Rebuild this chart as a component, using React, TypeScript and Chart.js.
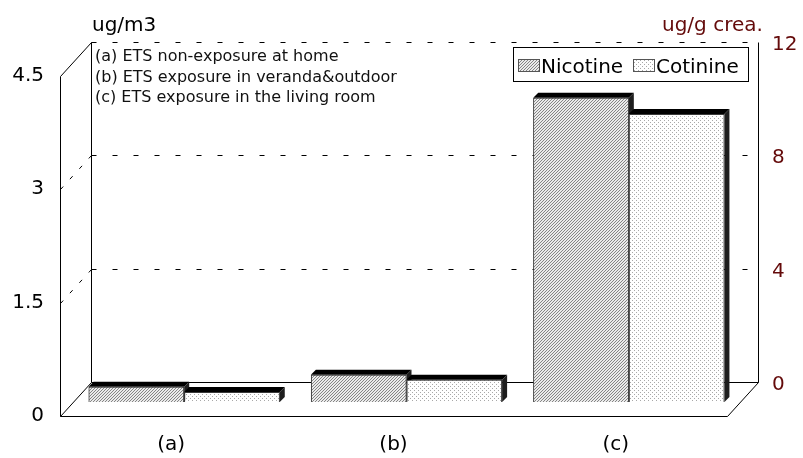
import { useEffect, useRef } from 'react';
import { Chart, registerables } from 'chart.js';

Chart.register(...registerables);

// ---- data ----
const categories = ['(a)', '(b)', '(c)'];
const seriesNames = ['Nicotine', 'Cotinine'];
const nicotine = [0.2, 0.36, 4.02]; // ug/m3, left axis
const cotinine = [0.35, 0.78, 10.15]; // ug/g crea., right axis
const leftUnit = 'ug/m3';
const rightUnit = 'ug/g crea.';
const leftMax = 4.5;
const leftStep = 1.5;
const rightMax = 12;
const rightStep = 4;
const notes = [
  '(a) ETS non-exposure at home',
  '(b) ETS exposure in veranda&outdoor',
  '(c) ETS exposure in the living room',
];

// ---- look ----
const FONT = "'DejaVu Sans', sans-serif";
const RIGHT_COLOR = '#640a0a';
// 3D box planes, relative to the bar plane (the chart area)
const FRONT = { dx: -13, dy: 14 };
const BACK = { dx: 18, dy: -20 };
// depth of each bar
const BAR_DX = 5;
const BAR_DY = 5;

function makePattern(kind: 'hatch' | 'dots'): CanvasPattern | string {
  const c = document.createElement('canvas');
  const g = c.getContext('2d');
  if (!g) return '#ccc';
  if (kind === 'hatch') {
    c.width = 3;
    c.height = 3;
    g.fillStyle = '#ebebeb';
    g.fillRect(0, 0, 3, 3);
    g.fillStyle = '#858585';
    for (let x = 0; x < 3; x++) g.fillRect(x, 2 - x, 1, 1);
  } else {
    c.width = 4;
    c.height = 4;
    g.fillStyle = '#ffffff';
    g.fillRect(0, 0, 4, 4);
    g.fillStyle = '#a8a8a8';
    g.fillRect(0, 0, 1, 1);
    g.fillRect(2, 2, 1, 1);
  }
  return g.createPattern(c, 'repeat') || '#ccc';
}

const px = (v: number) => Math.round(v) + 0.5;

function drawBarFaces(ctx: CanvasRenderingContext2D, el: any) {
  const { x, y, base, width } = el.getProps(['x', 'y', 'base', 'width'], true);
  const l = x - width / 2;
  const r = x + width / 2;
  // top face
  ctx.fillStyle = '#000';
  ctx.beginPath();
  ctx.moveTo(l, y);
  ctx.lineTo(l + BAR_DX, y - BAR_DY);
  ctx.lineTo(r + BAR_DX, y - BAR_DY);
  ctx.lineTo(r, y);
  ctx.closePath();
  ctx.fill();
  // right face
  ctx.fillStyle = '#1e1e1e';
  ctx.beginPath();
  ctx.moveTo(r, y);
  ctx.lineTo(r + BAR_DX, y - BAR_DY);
  ctx.lineTo(r + BAR_DX, base - BAR_DY);
  ctx.lineTo(r, base);
  ctx.closePath();
  ctx.fill();
}

const boxPlugin = {
  id: 'box3d',
  beforeDatasetsDraw(chart: any) {
    const { ctx, chartArea: a } = chart;
    const y = chart.scales.y;
    const z0 = y.getPixelForValue(0);
    const zt = y.getPixelForValue(leftMax);
    const fl = px(a.left + FRONT.dx), fr = px(a.right + FRONT.dx);
    const fb = px(z0 + FRONT.dy), ft = px(zt + FRONT.dy);
    const bl = px(a.left + BACK.dx), br = px(a.right + BACK.dx);
    const bb = px(z0 + BACK.dy), bt = px(zt + BACK.dy);

    ctx.save();
    ctx.strokeStyle = '#000';
    ctx.lineWidth = 1;

    // dashed grid on the back wall and the left wall
    ctx.setLineDash([5, 16]);
    const levels: number[] = [];
    for (let v = leftStep; v <= leftMax + 1e-9; v += leftStep) levels.push(v);
    levels.forEach((v) => {
      const yb = px(y.getPixelForValue(v) + BACK.dy);
      ctx.beginPath();
      ctx.moveTo(bl, yb);
      ctx.lineTo(br, yb);
      ctx.stroke();
    });
    ctx.setLineDash([4, 10]);
    levels.forEach((v) => {
      if (Math.abs(v - leftMax) < 1e-9) return;
      const yb = px(y.getPixelForValue(v) + BACK.dy);
      const yf = px(y.getPixelForValue(v) + FRONT.dy);
      ctx.beginPath();
      ctx.moveTo(fl, yf);
      ctx.lineTo(bl, yb);
      ctx.stroke();
    });
    ctx.setLineDash([]);

    // solid edges of the box
    ctx.beginPath();
    ctx.moveTo(fl, fb);
    ctx.lineTo(fl, ft);
    ctx.lineTo(bl, bt);
    ctx.lineTo(bl, bb);
    ctx.moveTo(fl, fb);
    ctx.lineTo(fr, fb);
    ctx.lineTo(br, bb);
    ctx.lineTo(bl, bb);
    ctx.lineTo(fl, fb);
    ctx.moveTo(br, bb);
    ctx.lineTo(br, bt);
    ctx.stroke();
    ctx.restore();
  },
  afterDatasetsDraw(chart: any) {
    // redraw the bars front to back so each right-hand bar hides
    // the side face of its left neighbour
    const { ctx } = chart;
    ctx.save();
    chart.data.datasets.forEach((_: any, i: number) => {
      const meta = chart.getDatasetMeta(i);
      meta.data.forEach((el: any) => {
        el.draw(ctx);
        drawBarFaces(ctx, el);
      });
    });
    ctx.restore();
  },
  afterDraw(chart: any) {
    const { ctx } = chart;
    ctx.save();
    ctx.textBaseline = 'alphabetic';
    ctx.textAlign = 'left';

    // axis units
    ctx.font = `20px ${FONT}`;
    ctx.fillStyle = '#000';
    ctx.fillText(leftUnit, 92, 31);
    ctx.fillStyle = RIGHT_COLOR;
    ctx.fillText(rightUnit, 662, 31);

    // notes
    ctx.font = `16px ${FONT}`;
    ctx.fillStyle = '#111';
    notes.forEach((t, i) => ctx.fillText(t, 95, 61 + i * 20.5));

    // legend
    ctx.fillStyle = '#fff';
    ctx.fillRect(513, 47, 235, 34);
    ctx.strokeStyle = '#000';
    ctx.lineWidth = 1;
    ctx.strokeRect(513.5, 47.5, 235, 34);
    const ds = chart.data.datasets;
    const items = [
      { x: 518, i: 0 },
      { x: 633, i: 1 },
    ];
    ctx.font = `20px ${FONT}`;
    items.forEach(({ x, i }) => {
      ctx.fillStyle = ds[i].backgroundColor;
      ctx.fillRect(x, 59, 22, 13);
      ctx.strokeStyle = '#555';
      ctx.strokeRect(x + 0.5, 59.5, 21, 12);
      ctx.fillStyle = '#000';
      ctx.fillText(ds[i].label, x + 23, 72.5);
    });
    ctx.restore();
  },
};

export default function App() {
  const ref = useRef<HTMLCanvasElement>(null);

  useEffect(() => {
    const canvas = ref.current;
    if (!canvas) return;
    const tickFont = { family: FONT, size: 20 };
    const chart = new Chart(canvas, {
      type: 'bar',
      data: {
        labels: categories,
        datasets: [
          {
            label: seriesNames[0],
            data: nicotine,
            yAxisID: 'y',
            backgroundColor: makePattern('hatch') as any,
            borderColor: '#3a3a3a',
            borderWidth: 1,
            barPercentage: 1,
            categoryPercentage: 0.86,
          },
          {
            label: seriesNames[1],
            data: cotinine,
            yAxisID: 'y2',
            backgroundColor: makePattern('dots') as any,
            borderColor: '#3a3a3a',
            borderWidth: 1,
            barPercentage: 1,
            categoryPercentage: 0.86,
          },
        ],
      },
      options: {
        responsive: false,
        animation: false,
        devicePixelRatio: 1,
        layout: { padding: { top: 61.5, left: 0, right: 0, bottom: 0 } },
        plugins: { legend: { display: false }, tooltip: { enabled: false } },
        scales: {
          x: {
            type: 'category',
            offset: true,
            grid: { display: false, drawTicks: false },
            border: { display: false },
            ticks: { font: tickFont, color: '#000', padding: 31, labelOffset: -13, maxRotation: 0 },
            afterFit: (s: any) => {
              s.height = 56;
            },
          },
          y: {
            position: 'left',
            min: 0,
            max: leftMax,
            grid: { display: false, drawTicks: false },
            border: { display: false },
            ticks: { stepSize: leftStep, font: tickFont, color: '#000', padding: 29, labelOffset: 14 },
            afterFit: (s: any) => {
              s.width = 73;
            },
          },
          y2: {
            position: 'right',
            min: 0,
            max: rightMax,
            grid: { display: false, drawTicks: false },
            border: { display: false },
            ticks: { stepSize: rightStep, font: tickFont, color: RIGHT_COLOR, padding: 32, labelOffset: -17 },
            afterFit: (s: any) => {
              s.width = 63;
            },
          },
        },
      } as any,
      plugins: [boxPlugin],
    });
    return () => chart.destroy();
  }, []);

  return (
    <div style={{ position: 'absolute', left: 0, top: 0, width: 803, height: 458, background: '#fff' }}>
      <canvas ref={ref} width={803} height={458} style={{ display: 'block' }} />
    </div>
  );
}
